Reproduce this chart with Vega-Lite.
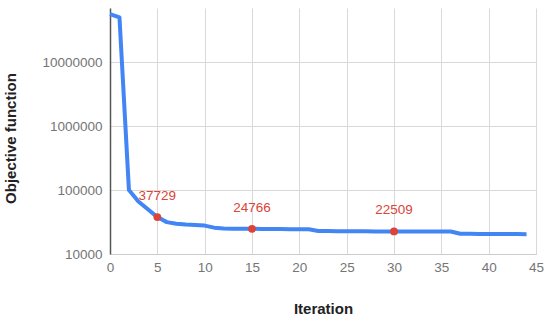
{
  "$schema": "https://vega.github.io/schema/vega-lite/v6.json",
  "autosize": "none",
  "padding": {"left": 110, "top": 8, "right": 14, "bottom": 66},
  "width": 426,
  "height": 246,
  "background": "white",
  "config": {
    "view": {"stroke": null},
    "font": "Liberation Sans"
  },
  "datasets": {
    "series": [
      {"iteration": 0, "objective": 56000000},
      {"iteration": 1, "objective": 50000000},
      {"iteration": 2, "objective": 100000},
      {"iteration": 3, "objective": 66000},
      {"iteration": 4, "objective": 50000},
      {"iteration": 5, "objective": 37729},
      {"iteration": 6, "objective": 31500},
      {"iteration": 7, "objective": 29800},
      {"iteration": 8, "objective": 28800},
      {"iteration": 9, "objective": 28300},
      {"iteration": 10, "objective": 27800},
      {"iteration": 11, "objective": 25800},
      {"iteration": 12, "objective": 25100},
      {"iteration": 13, "objective": 24900},
      {"iteration": 14, "objective": 24800},
      {"iteration": 15, "objective": 24766},
      {"iteration": 16, "objective": 24700},
      {"iteration": 17, "objective": 24600},
      {"iteration": 18, "objective": 24500},
      {"iteration": 19, "objective": 24450},
      {"iteration": 20, "objective": 24400},
      {"iteration": 21, "objective": 24350},
      {"iteration": 22, "objective": 22900},
      {"iteration": 23, "objective": 22800},
      {"iteration": 24, "objective": 22750},
      {"iteration": 25, "objective": 22700},
      {"iteration": 26, "objective": 22650},
      {"iteration": 27, "objective": 22600},
      {"iteration": 28, "objective": 22560},
      {"iteration": 29, "objective": 22530},
      {"iteration": 30, "objective": 22509},
      {"iteration": 31, "objective": 22500},
      {"iteration": 32, "objective": 22490},
      {"iteration": 33, "objective": 22480},
      {"iteration": 34, "objective": 22470},
      {"iteration": 35, "objective": 22460},
      {"iteration": 36, "objective": 22450},
      {"iteration": 37, "objective": 20700},
      {"iteration": 38, "objective": 20650},
      {"iteration": 39, "objective": 20600},
      {"iteration": 40, "objective": 20600},
      {"iteration": 41, "objective": 20550},
      {"iteration": 42, "objective": 20500},
      {"iteration": 43, "objective": 20450},
      {"iteration": 44, "objective": 20400}
    ],
    "marks": [
      {"iteration": 5, "objective": 37729},
      {"iteration": 15, "objective": 24766},
      {"iteration": 30, "objective": 22509}
    ]
  },
  "encoding": {
    "x": {
      "field": "iteration",
      "type": "quantitative",
      "scale": {"domain": [0, 45], "nice": false, "zero": false},
      "axis": {
        "title": "Iteration",
        "titleFontSize": 15,
        "titleFontWeight": "bold",
        "titleColor": "#222222",
        "titlePadding": 28,
        "values": [0, 5, 10, 15, 20, 25, 30, 35, 40, 45],
        "labelFontSize": 13.5,
        "labelColor": "#757575",
        "labelPadding": 6,
        "ticks": false,
        "domain": true,
        "domainColor": "#cccccc",
        "gridColor": "#d9d9d9",
        "gridWidth": 1,
        "labelFlush": false
      }
    },
    "y": {
      "field": "objective",
      "type": "quantitative",
      "scale": {"type": "log", "domain": [10000, 70000000], "nice": false},
      "axis": {
        "title": "Objective function",
        "titleFontSize": 15,
        "titleFontWeight": "bold",
        "titleColor": "#222222",
        "titleX": -92,
        "titleY": 130,
        "values": [10000, 100000, 1000000, 10000000],
        "format": "d",
        "labelFontSize": 13.5,
        "labelColor": "#757575",
        "labelPadding": 8,
        "ticks": false,
        "domain": true,
        "domainColor": "#555555",
        "domainWidth": 1.5,
        "gridColor": "#d9d9d9",
        "gridWidth": 1
      }
    }
  },
  "layer": [
    {
      "data": {"name": "series"},
      "mark": {"type": "line", "color": "#4285F4", "strokeWidth": 4, "strokeJoin": "round"}
    },
    {
      "data": {"name": "marks"},
      "mark": {"type": "point", "filled": true, "color": "#DB4437", "size": 60, "opacity": 1}
    },
    {
      "data": {"name": "marks"},
      "mark": {"type": "text", "color": "#DB4437", "fontSize": 13.5, "dy": -21, "align": "center", "baseline": "middle"},
      "encoding": {"text": {"field": "objective", "type": "quantitative", "format": "d"}}
    }
  ]
}
